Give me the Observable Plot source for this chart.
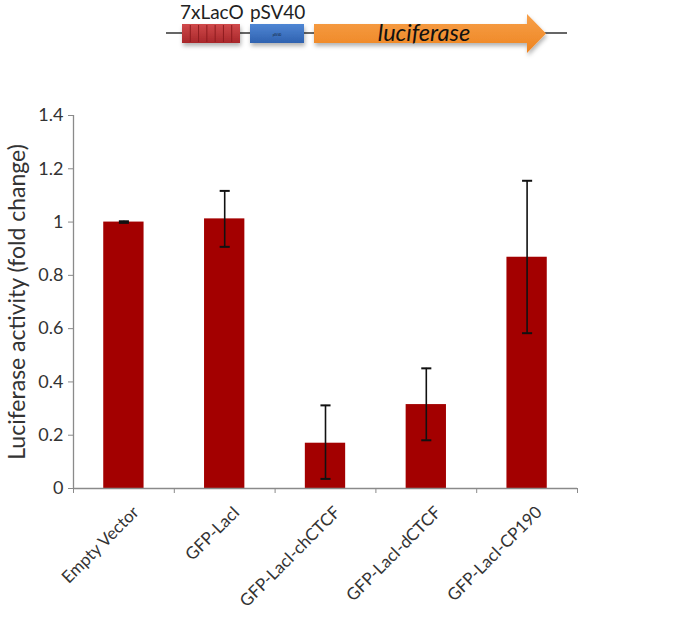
<!DOCTYPE html>
<html>
<head>
<meta charset="utf-8">
<script src="https://cdn.jsdelivr.net/npm/d3@7"></script>
<script src="https://cdn.jsdelivr.net/npm/@observablehq/plot@0.6"></script>
<style>
  html, body { margin: 0; padding: 0; background: #fff; }
  #chart { width: 700px; height: 620px; }
</style>
</head>
<body>
<div id="chart"></div>
<script>
// ---- data ----
const categories = ["Empty Vector", "GFP-LacI", "GFP-LacI-chCTCF", "GFP-LacI-dCTCF", "GFP-LacI-CP190"];
const values     = [1.000, 1.012, 0.170, 0.315, 0.868];
const errLow     = [0.997, 0.907, 0.036, 0.181, 0.583];
const errHigh    = [1.003, 1.117, 0.312, 0.451, 1.155];
const yTicks     = [0, 0.2, 0.4, 0.6, 0.8, 1.0, 1.2, 1.4];
const yLabel     = "Luciferase activity (fold change)";
const constructLabels = ["7xLacO", "pSV40", "luciferase"];

const rows = categories.map((c, i) => ({
  cat: c, i, value: values[i], lo: errLow[i], hi: errHigh[i]
}));

const FONT = "Lato, 'Open Sans', sans-serif";
const AXIS = "#8a8a8a";
const TEXT = "#333";
const BAR = "#a30000";
const half = 0.2;   // half bar width in band units
const cap = 0.05;   // half cap width

const plot = Plot.plot({
  width: 700,
  height: 620,
  marginTop: 115,
  marginBottom: 132,
  marginLeft: 73,
  marginRight: 123,
  style: { fontFamily: FONT, color: TEXT, background: "#fff" },
  x: { domain: [0, categories.length] },
  y: { domain: [0, 1.4] },
  marks: [
    Plot.rectY(rows, { x1: d => d.i + 0.5 - half, x2: d => d.i + 0.5 + half, y1: 0, y2: "value", fill: BAR }),
    Plot.ruleX(rows, { x: d => d.i + 0.5, y1: "lo", y2: "hi", stroke: "#111", strokeWidth: 1.6 }),
    Plot.link(rows, { x1: d => d.i + 0.5 - cap, x2: d => d.i + 0.5 + cap, y1: "hi", y2: "hi", stroke: "#111", strokeWidth: 2 }),
    Plot.link(rows, { x1: d => d.i + 0.5 - cap, x2: d => d.i + 0.5 + cap, y1: "lo", y2: "lo", stroke: "#111", strokeWidth: 2 }),
    Plot.ruleY([0], { stroke: AXIS, strokeWidth: 1.3 }),
    Plot.ruleX([0], { stroke: AXIS, strokeWidth: 1.3 }),
    Plot.axisY({
      ticks: yTicks,
      tickFormat: d => String(+d.toFixed(1)),
      tickSize: 5,
      tickPadding: 5,
      stroke: AXIS,
      fontSize: 18,
      label: yLabel,
      labelAnchor: "center",
      labelArrow: "none",
      labelOffset: 65
    }),
    Plot.axisX({
      ticks: d3.range(categories.length + 1),
      tickFormat: () => "",
      tickSize: 5,
      stroke: AXIS,
      label: null
    }),
    Plot.axisX({
      ticks: d3.range(categories.length).map(i => i + 0.5),
      tickFormat: t => categories[Math.floor(t)],
      tickSize: 0,
      tickPadding: 21,
      tickRotate: -45,
      dx: 12,
      fontSize: 17,
      label: null
    })
  ]
});

// enlarge y-axis label font
d3.select(plot).selectAll("[aria-label='y-axis label'] text").attr("font-size", 23);

// ---- construct diagram (decorative header) ----
const svg = d3.select(plot);
const g = svg.append("g").attr("class", "construct").attr("text-anchor", "start");
const defs = svg.append("defs");
const fshadow = defs.append("filter").attr("id", "sh").attr("x", "-10%").attr("y", "-30%").attr("width", "130%").attr("height", "180%");
fshadow.append("feDropShadow").attr("dx", 1).attr("dy", 3).attr("stdDeviation", 2).attr("flood-color", "#000").attr("flood-opacity", 0.3);

const redG = defs.append("linearGradient").attr("id", "redG").attr("x1", 0).attr("y1", 0).attr("x2", 0).attr("y2", 1);
redG.append("stop").attr("offset", 0).attr("stop-color", "#d0494b");
redG.append("stop").attr("offset", 1).attr("stop-color", "#a8272a");
const blueG = defs.append("linearGradient").attr("id", "blueG").attr("x1", 0).attr("y1", 0).attr("x2", 0).attr("y2", 1);
blueG.append("stop").attr("offset", 0).attr("stop-color", "#4f86d4");
blueG.append("stop").attr("offset", 1).attr("stop-color", "#2f62b0");
const orG = defs.append("linearGradient").attr("id", "orG").attr("x1", 0).attr("y1", 0).attr("x2", 0).attr("y2", 1);
orG.append("stop").attr("offset", 0).attr("stop-color", "#f7a04a");
orG.append("stop").attr("offset", 1).attr("stop-color", "#ee8420");

g.append("line").attr("x1", 166).attr("x2", 567).attr("y1", 33).attr("y2", 33).attr("stroke", "#333").attr("stroke-width", 1.5);
g.append("rect").attr("x", 182).attr("y", 24).attr("width", 58).attr("height", 19).attr("fill", "url(#redG)").attr("filter", "url(#sh)");
for (let k = 1; k < 7; k++) {
  g.append("line").attr("x1", 182 + k * 58 / 7).attr("x2", 182 + k * 58 / 7).attr("y1", 25).attr("y2", 42).attr("stroke", "#8e1c1f").attr("stroke-width", 1);
}
g.append("rect").attr("x", 250).attr("y", 24).attr("width", 54).attr("height", 19).attr("fill", "url(#blueG)").attr("filter", "url(#sh)");
g.append("text").attr("x", 277).attr("y", 36).attr("text-anchor", "middle").attr("font-size", 3).attr("fill", "#123").text("pSV40");
g.append("path")
  .attr("d", "M314,24 L527,24 L527,14 L546,33.5 L527,53 L527,43 L314,43 Z")
  .attr("fill", "url(#orG)").attr("filter", "url(#sh)");
g.append("text").attr("x", 180).attr("y", 19).attr("text-anchor", "start").attr("font-family", FONT).attr("font-size", 19).attr("fill", "#222").text(constructLabels[0]);
g.append("text").attr("x", 250).attr("y", 19).attr("text-anchor", "start").attr("font-family", FONT).attr("font-size", 19).attr("fill", "#222").text(constructLabels[1]);
g.append("text").attr("x", 424).attr("y", 41).attr("text-anchor", "middle").attr("font-family", FONT).attr("font-style", "italic").attr("font-size", 23.5).attr("fill", "#111").text(constructLabels[2]);

document.getElementById("chart").appendChild(plot);
</script>
</body>
</html>
